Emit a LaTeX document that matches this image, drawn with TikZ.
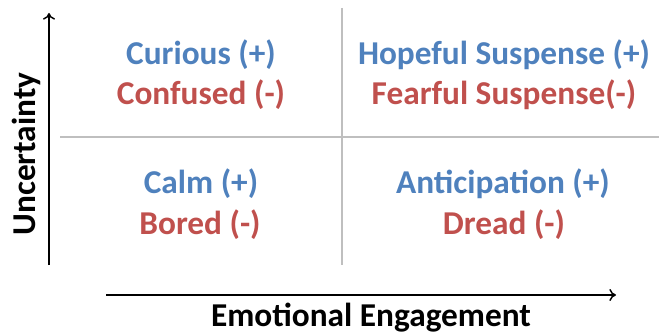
\documentclass[tikz,border=0pt]{standalone}
\usepackage{fontspec}
\setmainfont{Carlito}
\usetikzlibrary{arrows.meta}
\definecolor{posblue}{HTML}{4F81BD}
\definecolor{negred}{HTML}{C0504D}

\begin{document}
\begin{tikzpicture}[x=0.75pt,y=-0.75pt]

\tikzset{
    lbl/.style={inner sep=0pt,font=\fontsize{25}{30}\selectfont\bfseries},
    goodtxt/.style={lbl,text=posblue},
    badtxt/.style={lbl,text=negred},
    grid line/.style={draw=black!25,line width=1.1pt},
    axis/.style={draw=black,line width=1.1pt,-{To[length=5pt,width=9pt]}}}

\useasboundingbox (0,0) rectangle (659,335);

\coordinate (g1) at (342,8);
\coordinate (g2) at (342,265);
\coordinate (g3) at (60,137);
\coordinate (g4) at (659,137);
\draw[grid line] (g1) -- (g2);
\draw[grid line] (g3) -- (g4);

\coordinate (yo) at (49,265);
\coordinate (yt) at (49,13);
\coordinate (xo) at (106,295);
\coordinate (xt) at (616,295);
\draw[axis] (yo) -- (yt);
\draw[axis] (xo) -- (xt);

\node[lbl,rotate=90] (unc) at (26,154) {Uncertainty};
\node[lbl] (emo) at (371,318) {Emotional Engagement};

\node[goodtxt] (cur) at (201,55) {Curious (+)};
\node[badtxt] (con) at (201,95) {Confused (-)};
\node[goodtxt] (hop) at (504,55) {Hopeful Suspense (+)};
\node[badtxt] (fea) at (504,95) {Fearful Suspense(-)};
\node[goodtxt] (clm) at (201,184) {Calm (+)};
\node[badtxt] (bor) at (200,225) {Bored (-)};
\node[goodtxt] (ant) at (503,184) {Anticipation (+)};
\node[badtxt] (dre) at (504,225) {Dread (-)};

\end{tikzpicture}
\end{document}
